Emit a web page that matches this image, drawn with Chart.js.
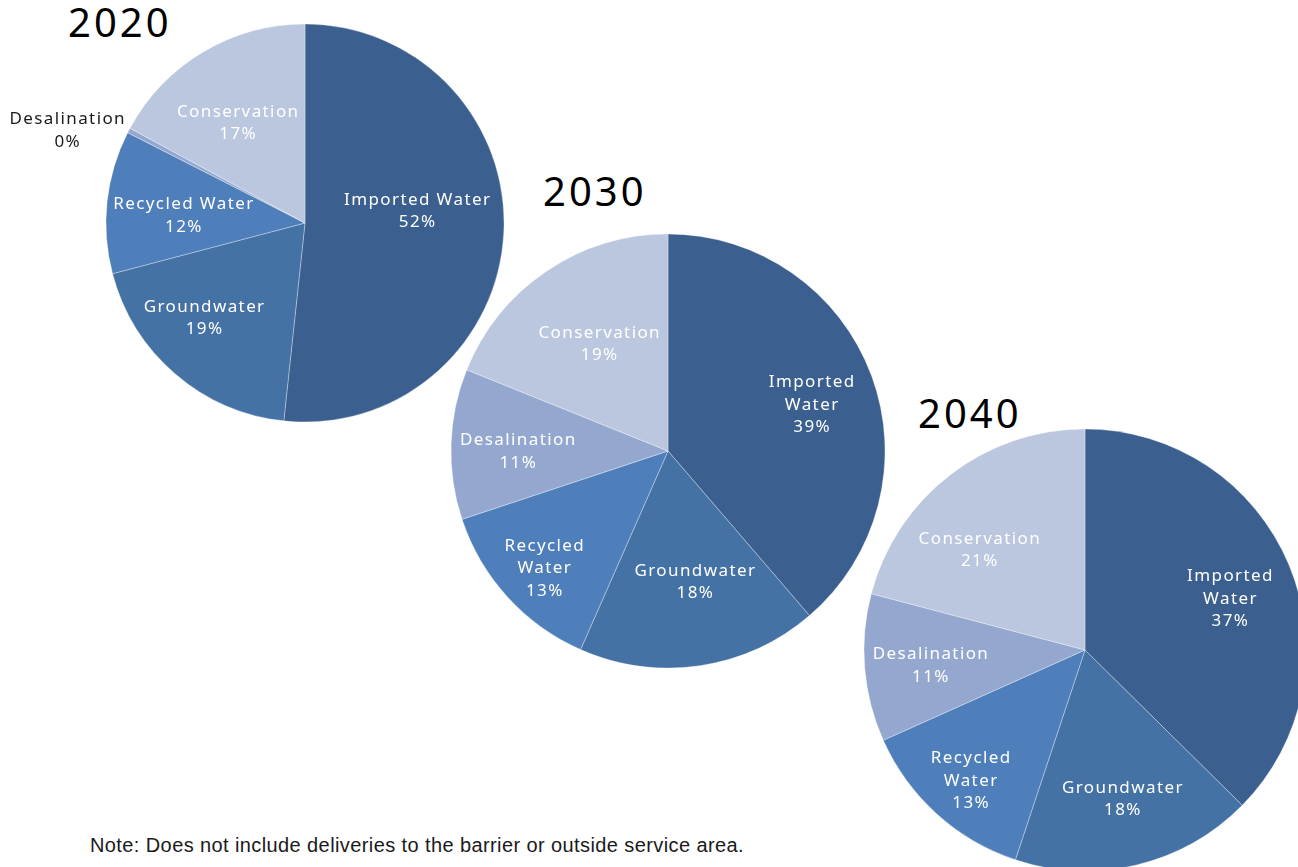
<!DOCTYPE html>
<html>
<head>
<meta charset="utf-8">
<script src="https://cdn.jsdelivr.net/npm/chart.js@4.4.1/dist/chart.umd.min.js"></script>
<style>
  html, body { margin: 0; padding: 0; background: #ffffff; }
  body { width: 1298px; height: 867px; position: relative; overflow: hidden; }
  canvas { position: absolute; }
  .year { position: absolute; font-family: "Noto Sans", sans-serif; font-size: 40px; line-height: 1;
          color: #000; letter-spacing: 3px; white-space: nowrap; }
  .note { position: absolute; left: 90px; top: 835px; font-family: "Liberation Sans", Arial, sans-serif;
          font-size: 20px; line-height: 1; color: #1a1a1a; letter-spacing: 0.4px; white-space: nowrap; }
</style>
</head>
<body>
<div class="year" style="left:68px; top:2px;">2020</div>
<div class="year" style="left:543px; top:171px;">2030</div>
<div class="year" style="left:918px; top:393px;">2040</div>
<canvas id="pie2020"></canvas>
<canvas id="pie2030"></canvas>
<canvas id="pie2040"></canvas>
<div class="note">Note: Does not include deliveries to the barrier or outside service area.</div>
<script>
// Water supply sources, share of total supply (%)
const categories = ['Imported Water', 'Groundwater', 'Recycled Water', 'Desalination', 'Conservation'];
const years = ['2020', '2030', '2040'];
const share2020 = [51.7, 19.2, 11.6, 0.4, 17.1];
const share2030 = [38.7, 17.9, 13.3, 11.2, 18.9];
const share2040 = [37.4, 17.7, 13.2, 10.8, 20.9];

const sliceColors = ['#3b5f8e', '#4472a5', '#4e7fbb', '#94a8cf', '#bac7df'];

// Draws "name / percent" labels inside each slice; tiny slices get an outside label.
const sliceLabels = {
  id: 'sliceLabels',
  afterDatasetsDraw(chart, args, opts) {
    const ctx = chart.ctx;
    const meta = chart.getDatasetMeta(0);
    const values = chart.data.datasets[0].data;
    const total = values.reduce((a, b) => a + b, 0);
    const lineH = 22.5;
    ctx.save();
    ctx.font = '17px "Noto Sans", sans-serif';
    ctx.letterSpacing = '1.4px';
    ctx.textAlign = 'center';
    ctx.textBaseline = 'middle';
    meta.data.forEach((arc, i) => {
      const { x, y, startAngle, endAngle, outerRadius } = arc.getProps(['x', 'y', 'startAngle', 'endAngle', 'outerRadius'], true);
      const pct = Math.round(values[i] / total * 100) + '%';
      const name = chart.data.labels[i];
      const lines = (opts.wrap && name.includes(' ') ? name.split(' ') : [name]).concat(pct);
      const spot = opts.spots[i];
      const mid = (startAngle + endAngle) / 2;
      let cx, cy;
      if (spot === 'outside') {
        const ax = x + Math.cos(mid) * outerRadius * 1.05;
        const ay = y + Math.sin(mid) * outerRadius * 1.05;
        const w = Math.max(...lines.map(l => ctx.measureText(l).width));
        cx = ax - w / 2 + 6;
        cy = ay + 5;
        ctx.fillStyle = '#1a1a1a';
      } else {
        const a = mid + spot[1] * Math.PI / 180;
        cx = x + Math.cos(a) * outerRadius * spot[0];
        cy = y + Math.sin(a) * outerRadius * spot[0] + 1.5;
        ctx.fillStyle = '#ffffff';
      }
      const y0 = cy - (lines.length - 1) * lineH / 2;
      lines.forEach((l, k) => ctx.fillText(l, cx, y0 + k * lineH));
    });
    ctx.restore();
  }
};

function makePie(id, values, centre, radius, margin, labelOpts) {
  const size = Math.ceil(radius * 2 + margin * 2);
  const canvas = document.getElementById(id);
  canvas.width = size;
  canvas.height = size;
  canvas.style.width = size + 'px';
  canvas.style.height = size + 'px';
  canvas.style.left = (centre[0] - size / 2) + 'px';
  canvas.style.top = (centre[1] - size / 2) + 'px';
  return new Chart(canvas, {
    type: 'pie',
    data: {
      labels: categories,
      datasets: [{
        data: values,
        backgroundColor: sliceColors,
        borderColor: 'rgba(255,255,255,0.45)',
        borderWidth: 0.7,
        radius: radius
      }]
    },
    options: {
      responsive: false,
      animation: false,
      devicePixelRatio: 1,
      layout: { padding: 0 },
      plugins: {
        legend: { display: false },
        tooltip: { enabled: false },
        sliceLabels: labelOpts
      }
    },
    plugins: [sliceLabels]
  });
}

makePie('pie2020', share2020, [305, 223], 199, 110, {
  wrap: false,
  spots: [[0.57, -9.7], [0.69, 6.3], [0.61, -2], 'outside', [0.61, -2.6]]
});
makePie('pie2030', share2030, [668, 451], 217, 3, {
  wrap: true,
  spots: [[0.70, 2], [0.61, -3.5], [0.78, -1], [0.69, -1.4], [0.59, 1.8]]
});
makePie('pie2040', share2040, [1085, 650], 221, 3, {
  wrap: true,
  spots: [[0.70, 2.8], [0.69, -0.9], [0.78, -0.8], [0.70, -0.6], [0.66, -8.5]]
});
</script>
</body>
</html>
